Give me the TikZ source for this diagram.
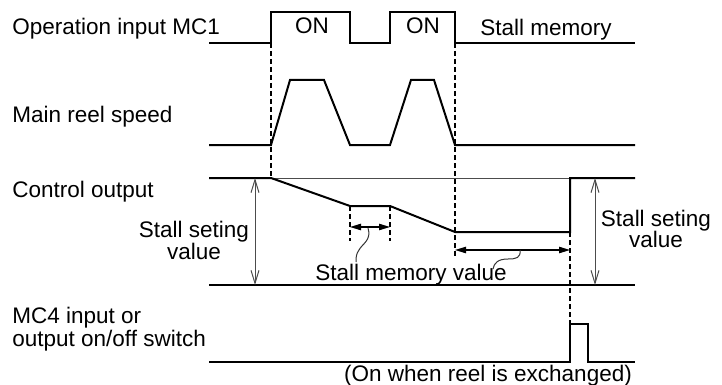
\documentclass[tikz,border=0pt]{standalone}
\usepackage{fontspec}
\setmainfont{Liberation Sans}
\usetikzlibrary{arrows.meta}
\begin{document}
\begin{tikzpicture}[x=0.5pt,y=-0.5pt,
  sig/.style={line width=1pt, line join=miter},
  fine/.style={line width=0.5pt, black!70},
  dsh/.style={line width=1.1pt, dash pattern=on 2.6pt off 1.4pt},
  lbl/.style={anchor=base west, inner sep=0pt, font=\fontsize{11.25}{13.5}\selectfont},
  ctr/.style={anchor=base, inner sep=0pt, font=\fontsize{11.25}{13.5}\selectfont},
  openarr/.style={fine, {Straight Barb[length=6.5pt,width=4pt]}-{Straight Barb[length=6.5pt,width=4pt]}},
  filarr/.style={line width=0.6pt, {Triangle[length=5.5pt,width=3.2pt]}-{Triangle[length=5.5pt,width=3.2pt]}},
  leader/.style={line width=0.5pt, black!80}
]
\useasboundingbox (0,0) rectangle (722,385);

% labels
\node[lbl] (l1) at (12,35) {Operation input MC1};
\node[lbl] (l2) at (12,123) {Main reel speed};
\node[lbl] (l3) at (12,197) {Control output};
\node[lbl] (l4a) at (12,323) {MC4 input or};
\node[lbl] (l4b) at (12,346) {output on/off switch};
\node[ctr] (on1) at (312,34) {ON};
\node[ctr] (on2) at (423,34) {ON};
\node[lbl] (sm) at (480,36) {Stall memory};
\node[ctr] (ssl1) at (194,237) {Stall seting};
\node[ctr] (ssl2) at (194,259) {value};
\node[ctr] (ssr1) at (656,226) {Stall seting};
\node[ctr] (ssr2) at (656,247) {value};
\node[ctr] (smv) at (411,280) {Stall memory value};
\node[ctr] (onw) at (488,381) {(On when reel is exchanged)};

% dashed guides
\draw[dsh] (271,43) -- (271,178);
\draw[dsh] (455,43) -- (455,258);
\draw[dsh] (350,206) -- (350,241);
\draw[dsh] (390,206) -- (390,241);
\draw[dsh] (570,232) -- (570,324);

% MC1
\draw[sig] (209,43) -- (271,43) -- (271,12) -- (350,12) -- (350,43) -- (390,43)
  -- (390,12) -- (455,12) -- (455,43) -- (635,43);
% speed
\draw[sig] (209,145) -- (271,145) -- (290,80) -- (324,80) -- (350,145) -- (390,145)
  -- (411,80) -- (434,80) -- (455,145) -- (635,145);
% control output
\draw[fine] (271,178) -- (570,178);
\draw[sig] (209,178) -- (271,178) -- (350,206) -- (390,206) -- (455,232) -- (570,232)
  -- (570,178) -- (635,178);
\draw[sig] (209,285) -- (635,285);
% MC4
\draw[sig] (209,362) -- (570,362) -- (570,324) -- (588,324) -- (588,362) -- (635,362);

% dimension arrows
\draw[openarr] (255,178) -- (255,285);
\draw[openarr] (595,178) -- (595,285);
\draw[filarr] (350,227) -- (390,227);
\draw[filarr] (455,250) -- (570,250);

% leaders
\draw[leader] (368,228) .. controls (372,240) and (362,244) .. (359,250)
  .. controls (356,254) and (356,258) .. (356,262);
\draw[leader] (520,250) .. controls (521,258) and (516,259) .. (508,259)
  .. controls (498,259) and (494,263) .. (493,269);
\end{tikzpicture}
\end{document}
